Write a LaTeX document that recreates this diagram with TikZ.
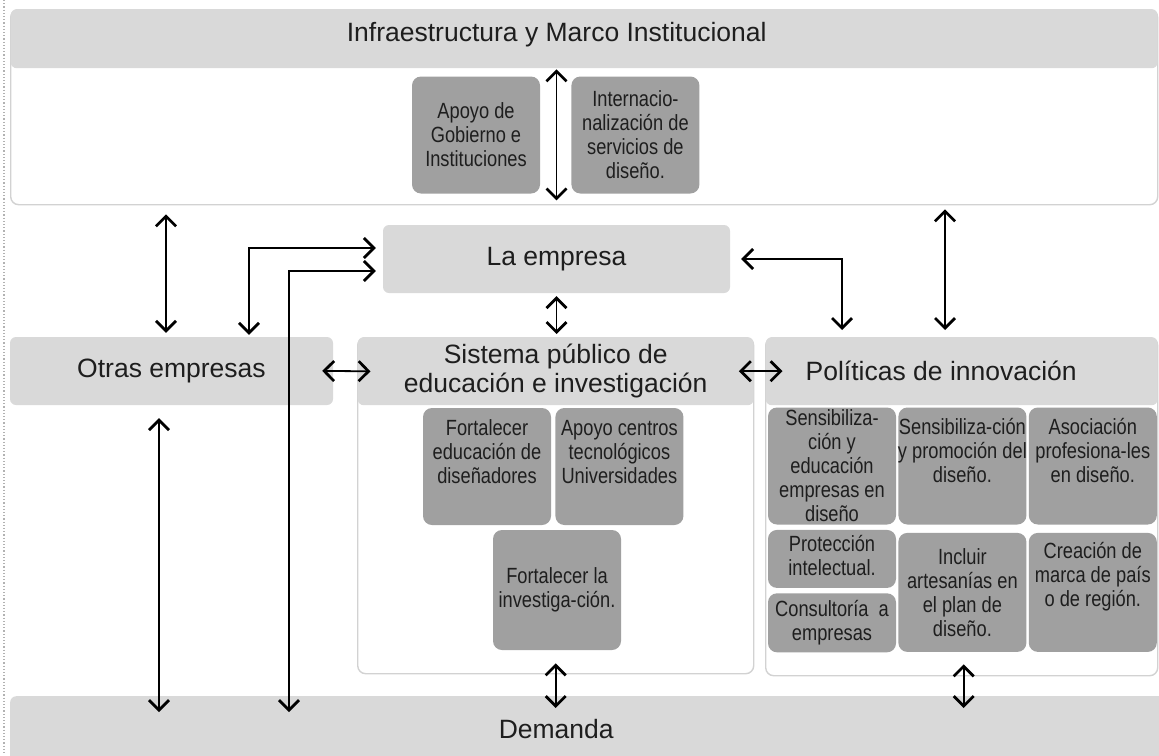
\documentclass[tikz,border=0pt]{standalone}
\usepackage{fontspec}
\setmainfont{Liberation Sans}
\newfontfamily\narrowfont{Liberation Sans}[FakeStretch=0.83]
\usetikzlibrary{positioning,arrows.meta}
\definecolor{headgray}{HTML}{D9D9D9}
\definecolor{itemgray}{HTML}{A0A0A0}
\definecolor{framegray}{HTML}{D2D2D2}
\definecolor{inkgray}{HTML}{1E1E1E}

\begin{document}
\begin{tikzpicture}[
  x=1pt, y=-1pt,
  head/.style={fill=headgray, rounded corners=6pt, text=inkgray, align=center, inner sep=0pt, font=\fontsize{26.5}{29}\selectfont},
  frame/.style={draw=framegray, line width=1.4pt, fill=white, rounded corners=8pt, inner sep=0pt},
  item/.style={fill=itemgray, rounded corners=9pt, text=inkgray, align=center, inner sep=0pt, minimum width=128pt, minimum height=117pt, font=\narrowfont\fontsize{22}{24}\selectfont},
  topped/.style={text depth=#1},
  link/.style={line width=1.8pt, draw=black},
  dlink/.style={link, {Straight Barb[length=10pt,width=20pt,line width=2.7pt]}-{Straight Barb[length=10pt,width=20pt,line width=2.7pt]}},
]
  \useasboundingbox (0,0) rectangle (1159,755);
  % dotted margin line
  \draw[dotted, line width=1.2pt, gray!60] (4,0) -- (4,755);

  % Infrastructure block
  \node[frame, anchor=north west, minimum width=1147pt, minimum height=195pt] (infra) at (10,9) {};
  \node[head, anchor=north, minimum width=1147pt, minimum height=59pt, topped=13pt] (infrahead) at (infra.north) {Infraestructura y Marco Institucional\hspace*{55pt}};
  \node[item] (apoyo) at (476,135) {Apoyo de\\Gobierno e\\Instituciones};
  \node[item, right=31pt of apoyo] (inter) {Internacio-\\nalización de\\servicios de\\diseño.};

  % Firms
  \node[head, minimum width=347pt, minimum height=68pt] (empresa) at (556.5,259) {La empresa};
  \node[head, minimum width=323pt, minimum height=68pt] (otras) at (171.5,371) {Otras empresas};

  % Public system
  \node[frame, anchor=north west, minimum width=396pt, minimum height=336pt] (sisframe) at (357,337) {};
  \node[head, anchor=north, minimum width=396pt, minimum height=68pt] (sistema) at (sisframe.north) {Sistema público de\\educación e investigación};
  \node[item, topped=29pt] (fortedu) at (487,466.5) {Fortalecer\\educación de\\diseñadores};
  \node[item, topped=29pt, right=4pt of fortedu] (apoyocent) {Apoyo centros\\tecnológicos\\Universidades};
  \node[item, minimum height=120pt] (forteinv) at (557,590) {Fortalecer la\\investiga-ción.};

  % Innovation policies
  \node[frame, anchor=north west, minimum width=392pt, minimum height=338pt] (polframe) at (765,337) {};
  \node[head, anchor=north, minimum width=392pt, minimum height=68pt] (politicas) at (polframe.north) {Políticas de innovación\hspace*{41pt}};
  \node[item] (sens1) at (832,466) {Sensibiliza-\\ción y\\educación\\empresas en\\diseño};
  \node[item, topped=32pt, inner xsep=-4pt, right=2pt of sens1] (sens2) {Sensibiliza-ción\\y promoción del\\diseño.};
  \node[item, topped=32pt, right=2pt of sens2] (asoc) {Asociación\\profesiona-les\\en diseño.};
  \node[item, minimum height=58pt, topped=8pt, below=5pt of sens1] (prot) {Protección\\intelectual.};
  \node[item, minimum height=59pt, below=5pt of prot] (cons) {Consultoría~ a\\empresas};
  \node[item, minimum height=119pt, below=8pt of sens2] (incl) {Incluir\\artesanías en\\el plan de\\diseño.};
  \node[item, minimum height=119pt, topped=37pt, below=8pt of asoc] (marca) {Creación de\\marca de país\\o de región.};

  % Demand
  \node[head, anchor=north west, minimum width=1160pt, minimum height=66pt] (demanda) at (10,696) {Demanda\hspace*{68pt}};

  % Arrow columns
  \coordinate (oa) at ([xshift=-5.5pt]otras.north);
  \coordinate (ob) at ([xshift=77.5pt]otras.north);
  \coordinate (oc) at ([xshift=117.5pt]otras.north);
  \coordinate (od) at ([xshift=-12.5pt]otras.south);
  \coordinate (pa) at ([xshift=77pt]polframe.north west);
  \coordinate (pb) at ([xshift=180pt]polframe.north west);
  \coordinate (pc) at ([xshift=2pt]polframe.south);

  % Arrows
  \draw[dlink, shorten <=1pt, shorten >=5pt] (empresa.north |- infrahead.south) -- (empresa.north |- infra.south);
  \draw[dlink, shorten <=9pt, shorten >=4pt] (oa |- infra.south) -- (oa);
  \draw[dlink, shorten <=7pt, shorten >=2pt] ([yshift=11pt]empresa.west) -| (ob);
  \draw[dlink, shorten <=7pt, shorten >=-16pt] ([yshift=-12pt]empresa.west) -| (oc |- demanda.north);
  \draw[dlink, shorten <=3pt, shorten >=3pt] (empresa.south) -- (empresa.south |- sistema.north);
  \draw[dlink, shorten <=11pt, shorten >=7pt] (empresa.east) -| (pa);
  \draw[dlink, shorten <=4pt, shorten >=7pt] (pb |- infra.south) -- (pb);
  \draw[dlink, shorten <=-11pt, shorten >=-13pt] (otras.east) -- (sistema.west);
  \draw[dlink, shorten <=-15pt, shorten >=-17pt] (sistema.east) -- (politicas.west);
  \draw[dlink, shorten <=13pt, shorten >=-16pt] (od) -- (od |- demanda.north);
  \draw[dlink, shorten <=-11pt, shorten >=-12pt] (sisframe.south) -- (sisframe.south |- demanda.north);
  \draw[dlink, shorten <=-12pt, shorten >=-12pt] (pc) -- (pc |- demanda.north);
\end{tikzpicture}
\end{document}
